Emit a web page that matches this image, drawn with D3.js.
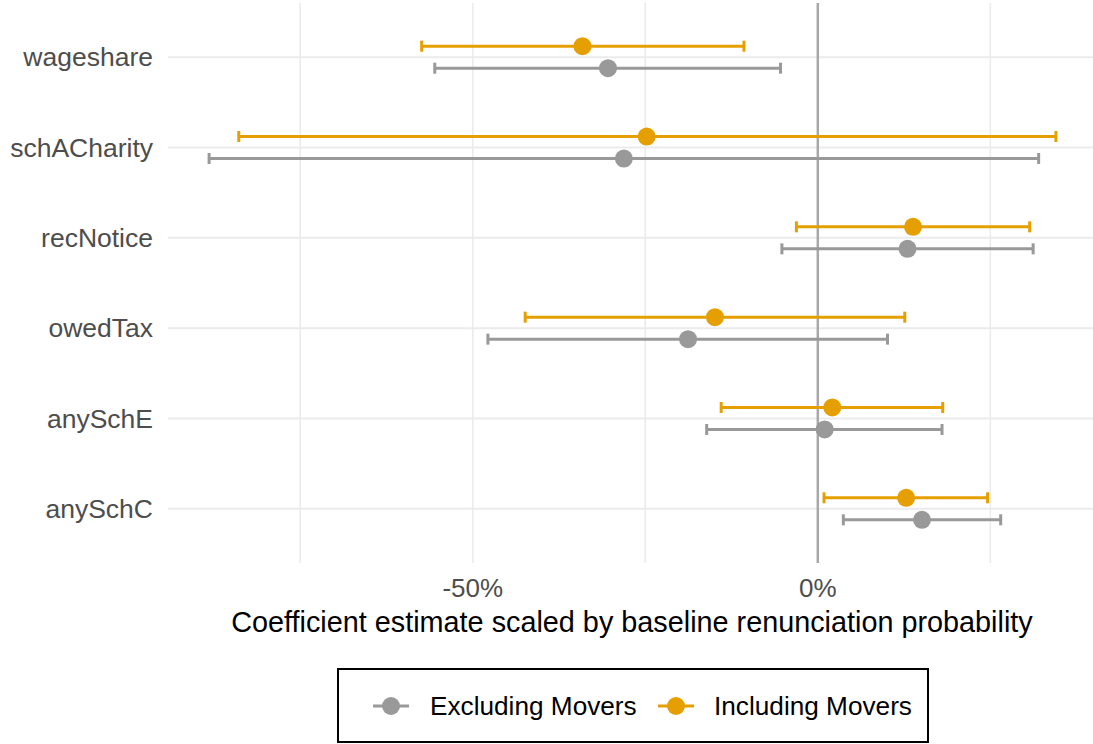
<!DOCTYPE html>
<html>
<head>
<meta charset="utf-8">
<script src="https://cdn.jsdelivr.net/npm/d3@7"></script>
<style>
  body { margin: 0; background: #fff; }
  svg { display: block; font-family: "Liberation Sans", Arial, sans-serif; }
</style>
</head>
<body>
<div id="chart"></div>
<script>
// categories, top to bottom
const categories = ['wageshare', 'schACharity', 'recNotice', 'owedTax', 'anySchE', 'anySchC'];
const seriesNames = ['Excluding Movers', 'Including Movers'];

// estimates and 95% intervals (share, e.g. -0.30 = -30%)
const exclEst  = [-0.304, -0.281,  0.130, -0.188,  0.010,  0.151];
const exclLow  = [-0.555, -0.882, -0.052, -0.478, -0.161,  0.037];
const exclHigh = [-0.054,  0.320,  0.312,  0.101,  0.180,  0.265];

const inclEst  = [-0.341, -0.248,  0.138, -0.149,  0.021,  0.128];
const inclLow  = [-0.574, -0.839, -0.031, -0.424, -0.140,  0.009];
const inclHigh = [-0.107,  0.345,  0.307,  0.126,  0.181,  0.246];

const xTicks = [-0.5, 0];
const xMinor = [-0.75, -0.25, 0.25];

const colors = { 'Excluding Movers': '#999999', 'Including Movers': '#E69F00' };

const W = 1093, H = 744;
const panel = { left: 168, right: 1093, top: 3, bottom: 563 };

const rows = [];
categories.forEach((c, i) => {
  rows.push({ cat: c, series: 'Excluding Movers', est: exclEst[i], lo: exclLow[i], hi: exclHigh[i] });
  rows.push({ cat: c, series: 'Including Movers', est: inclEst[i], lo: inclLow[i], hi: inclHigh[i] });
});

const svg = d3.select('#chart').append('svg')
  .attr('width', W)
  .attr('height', H);

const x = d3.scaleLinear()
  .domain([-0.943, 0.406])
  .range([167, 1098]);

const y = d3.scalePoint()
  .domain(categories)
  .range([panel.top, panel.bottom])
  .padding(0.6);

const dodge = d3.scalePoint()
  .domain(['Including Movers', 'Excluding Movers'])
  .range([-11, 11]);

// grid
const grid = svg.append('g');
grid.selectAll('.vgrid')
  .data(xTicks.concat(xMinor))
  .join('line')
  .attr('x1', d => x(d)).attr('x2', d => x(d))
  .attr('y1', panel.top).attr('y2', panel.bottom)
  .attr('stroke', '#ebebeb')
  .attr('stroke-width', 1.6);

grid.selectAll('.hgrid')
  .data(categories)
  .join('line')
  .attr('x1', panel.left).attr('x2', panel.right)
  .attr('y1', d => y(d)).attr('y2', d => y(d))
  .attr('stroke', '#ebebeb')
  .attr('stroke-width', 2);

// zero reference line
svg.append('line')
  .attr('x1', x(0)).attr('x2', x(0))
  .attr('y1', panel.top).attr('y2', panel.bottom)
  .attr('stroke', '#a8a8a8')
  .attr('stroke-width', 2.5);

// error bars
const bars = svg.append('g').selectAll('g')
  .data(rows)
  .join('g')
  .attr('transform', d => `translate(0,${y(d.cat) + dodge(d.series)})`);

bars.append('line')
  .attr('x1', d => x(d.lo)).attr('x2', d => x(d.hi))
  .attr('stroke', d => colors[d.series])
  .attr('stroke-width', 3);

bars.append('line')
  .attr('x1', d => x(d.lo)).attr('x2', d => x(d.lo))
  .attr('y1', -5.5).attr('y2', 5.5)
  .attr('stroke', d => colors[d.series])
  .attr('stroke-width', 3);

bars.append('line')
  .attr('x1', d => x(d.hi)).attr('x2', d => x(d.hi))
  .attr('y1', -5.5).attr('y2', 5.5)
  .attr('stroke', d => colors[d.series])
  .attr('stroke-width', 3);

bars.append('circle')
  .attr('cx', d => x(d.est))
  .attr('r', 9)
  .attr('fill', d => colors[d.series]);

// axes labels
svg.append('g').selectAll('text')
  .data(categories)
  .join('text')
  .attr('x', 153)
  .attr('y', d => y(d))
  .attr('dy', '0.35em')
  .attr('text-anchor', 'end')
  .attr('font-size', 26.5)
  .attr('fill', '#4d4d4d')
  .text(d => d);

svg.append('g').selectAll('text')
  .data(xTicks)
  .join('text')
  .attr('x', d => x(d))
  .attr('y', 597)
  .attr('text-anchor', 'middle')
  .attr('font-size', 26)
  .attr('fill', '#4d4d4d')
  .text(d => d3.format('.0%')(d).replace('−', '-'));

svg.append('text')
  .attr('x', 632)
  .attr('y', 632)
  .attr('text-anchor', 'middle')
  .attr('font-size', 28.8)
  .attr('fill', '#000')
  .text('Coefficient estimate scaled by baseline renunciation probability');

// legend
const legend = svg.append('g');
legend.append('rect')
  .attr('x', 338).attr('y', 669)
  .attr('width', 590).attr('height', 73)
  .attr('fill', 'none')
  .attr('stroke', '#000')
  .attr('stroke-width', 2);

const keyX = [391, 676];
const textX = [430, 714];
const legItems = legend.selectAll('g')
  .data(seriesNames)
  .join('g')
  .attr('transform', (d, i) => `translate(${keyX[i]},706)`);

legItems.append('line')
  .attr('x1', -18).attr('x2', 18)
  .attr('stroke', d => colors[d])
  .attr('stroke-width', 3);

legItems.append('circle')
  .attr('r', 9)
  .attr('fill', d => colors[d]);

legItems.append('text')
  .attr('x', (d, i) => textX[i] - keyX[i])
  .attr('dy', '0.35em')
  .attr('font-size', 26.2)
  .attr('fill', '#000')
  .text(d => d);
</script>
</body>
</html>
